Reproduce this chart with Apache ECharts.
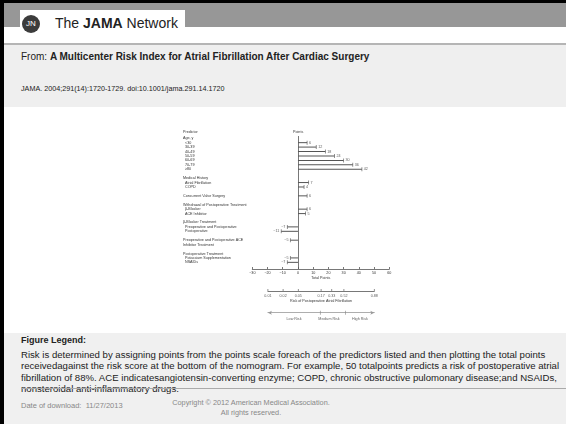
<!DOCTYPE html>
<html>
<head>
<meta charset="utf-8">
<script src="https://cdn.jsdelivr.net/npm/echarts@6/dist/echarts.min.js"></script>
<style>
  html, body { margin: 0; padding: 0; }
  body { width: 566px; height: 424px; overflow: hidden; position: relative; background: #fff;
         font-family: 'Liberation Sans', Arial, sans-serif; color: #222; }
  .abs { position: absolute; }
  #frameLeft { left: 0; top: 0; width: 4px; height: 424px; background: #000; }
  #frameTop { left: 0; top: 0; width: 566px; height: 3px; background: #000; }
  #band { left: 4px; top: 3px; width: 562px; height: 24px; background: #979797; }
  #logoBox { left: 20px; top: 10px; width: 165px; height: 17px; background: #fff; }
  #logo { left: 22px; top: 15px; width: 18px; height: 18px; border-radius: 50%; background: #3c3c3c;
          color: #fff; font-size: 8px; text-align: center; line-height: 18px; }
  #brand { left: 55px; top: 15px; font-size: 14px; white-space: nowrap; }
  #rule { left: 4px; top: 43px; width: 562px; height: 2px; background: #b5b5b5; }
  #fromBox { left: 4px; top: 45px; width: 562px; height: 62px; background: #efefef; }
  #from { left: 21px; top: 51px; font-size: 10px; white-space: nowrap; }
  #cite { left: 21px; top: 84px; font-size: 7.2px; white-space: nowrap; }
  #legendBox { left: 4px; top: 333px; width: 562px; height: 91px; background: #f0f0f0; }
  #legendTitle { left: 21px; top: 335px; font-size: 9px; font-weight: bold; }
  #legendText { left: 21px; top: 349px; font-size: 9.6px; line-height: 11.3px; white-space: nowrap; }
  #legendRule { left: 21px; top: 388px; width: 545px; height: 1px; background: #aaa; }
  #dl { left: 21px; top: 401px; font-size: 7.5px; color: #888; white-space: nowrap; }
  #copy { left: 151px; top: 398px; width: 200px; font-size: 7.3px; color: #888; text-align: center;
          line-height: 10px; white-space: nowrap; }
  #chart { left: 0; top: 0; width: 566px; height: 424px; }
</style>
</head>
<body>
<div class="abs" id="band"></div>
<div class="abs" id="frameLeft"></div>
<div class="abs" id="frameTop"></div>
<div class="abs" id="logoBox"></div>
<div class="abs" id="logo">JN</div>
<div class="abs" id="brand">The <b>JAMA</b> Network</div>
<div class="abs" id="rule"></div>
<div class="abs" id="fromBox"></div>
<div class="abs" id="from">From: <b>A Multicenter Risk Index for Atrial Fibrillation After Cardiac Surgery</b></div>
<div class="abs" id="cite">JAMA. 2004;291(14):1720-1729. doi:10.1001/jama.291.14.1720</div>
<div class="abs" id="legendBox"></div>
<div class="abs" id="legendTitle">Figure Legend:</div>
<div class="abs" id="legendText">Risk is determined by assigning points from the points scale foreach of the predictors listed and then plotting the total points<br>receivedagainst the risk score at the bottom of the nomogram. For example, 50 totalpoints predicts a risk of postoperative atrial<br>fibrillation of 88%. ACE indicatesangiotensin-converting enzyme; COPD, chronic obstructive pulomonary disease;and NSAIDs,<br>nonsteroidal anti-inflammatory drugs.</div>
<div class="abs" id="legendRule"></div>
<div class="abs" id="dl">Date of download:&nbsp; 11/27/2013</div>
<div class="abs" id="copy">Copyright © 2012 American Medical Association.<br>All rights reserved.</div>
<div class="abs" id="chart"></div>

<script>
// predictor rows, top to bottom (blank strings are spacer rows)
const rowLabels = [
    'Age, y', '<30', '30-39', '40-49', '50-59', '60-69', '70-79', '≥80', '',
    'Medical History', 'Atrial Fibrillation', 'COPD', '',
    'Concurrent Valve Surgery', '',
    'Withdrawal of Postoperative Treatment', 'β-Blocker', 'ACE Inhibitor', '',
    'β-Blocker Treatment', 'Preoperative and Postoperative', 'Postoperative', '',
    'Preoperative and Postoperative ACE', 'Inhibitor Treatment', '',
    'Postoperative Treatment', 'Potassium Supplementation', 'NSAIDs', ''
];
const rowIndent = [0,1,1,1,1,1,1,1,0, 0,1,1,0, 0,0, 0,1,1,0, 0,1,1,0, 0,0,0, 0,1,1,0];
const points = [
    null, 6, 12, 18, 24, 30, 36, 42, null,
    null, 7, 4, null,
    6, null,
    null, 6, 5, null,
    null, -7, -11, null,
    -5, null, null,
    null, -5, -7, null
];

// risk scale under the total points axis
const riskPoints = [-20, -10, 0, 15, 22, 30, 50];
const riskLabels = ['0.01', '0.02', '0.05', '0.17', '0.33', '0.52', '0.88'];

// risk groups
const groupCuts = [14.5, 31];
const groupNames = ['Low Risk', 'Medium Risk', 'High Risk'];
const groupCenters = [-2.8, 20.2, 40.6];

const FONT = 'Liberation Sans';
const FS = 3.7;
const INK = '#333';
const fmt = v => (v < 0 ? '\u2212' + (-v) : String(v));

const chart = echarts.init(document.getElementById('chart'), null, { renderer: 'canvas' });

const tickData = [];
points.forEach((v, i) => {
    if (v == null) return;
    tickData.push({ value: [v, i], label: { position: v < 0 ? 'left' : 'right' } });
});

const option = {
    backgroundColor: 'transparent',
    animation: false,
    textStyle: { fontFamily: FONT },
    grid: [
        { left: 252.3, right: 176.7, top: 136, height: 133, containLabel: false },
        { left: 267.9, right: 191.7, top: 290, height: 1, containLabel: false },
        { left: 267.9, right: 191.7, top: 311.7, height: 1, containLabel: false }
    ],
    xAxis: [
        {
            gridIndex: 0, type: 'value', min: -30, max: 60, interval: 10,
            name: 'Total Points', nameLocation: 'middle', nameGap: 7,
            nameTextStyle: { fontSize: FS, color: INK, fontFamily: FONT },
            axisLine: { show: true, onZero: false, lineStyle: { color: '#555', width: 0.8 } },
            axisTick: { show: true, inside: true, length: 2, lineStyle: { color: '#555', width: 0.8 } },
            axisLabel: { fontSize: FS, color: INK, margin: 1.5, formatter: fmt },
            splitLine: { show: false }
        },
        {
            gridIndex: 1, type: 'value', min: -20, max: 50,
            name: 'Risk of Postoperative Atrial Fibrillation', nameLocation: 'middle', nameGap: 7.8,
            nameTextStyle: { fontSize: FS, color: INK, fontFamily: FONT },
            axisLine: { show: true, onZero: false, lineStyle: { color: '#555', width: 0.8 } },
            axisTick: { show: false }, axisLabel: { show: false }, splitLine: { show: false }
        },
        {
            gridIndex: 2, type: 'value', min: -20, max: 50,
            axisLine: { show: true, onZero: false, symbol: ['arrow', 'arrow'], symbolSize: [3, 4],
                        lineStyle: { color: '#999', width: 0.8 } },
            axisTick: { show: false }, axisLabel: { show: false }, splitLine: { show: false }
        }
    ],
    yAxis: [
        {
            gridIndex: 0, type: 'category', inverse: true, data: rowLabels,
            axisLine: { show: false }, axisTick: { show: false }, splitLine: { show: false },
            axisLabel: {
                interval: 0, align: 'left', margin: 69.3, fontSize: FS, color: INK,
                formatter: (val, idx) => rowIndent[idx] ? '{s|' + val + '}' : '{h|' + val + '}',
                rich: {
                    h: { fontSize: FS, color: INK, fontFamily: FONT },
                    s: { fontSize: FS, color: INK, fontFamily: FONT, padding: [0, 0, 0, 2] }
                }
            }
        },
        { gridIndex: 1, type: 'value', min: 0, max: 1, show: false },
        { gridIndex: 2, type: 'value', min: 0, max: 1, show: false }
    ],
    graphic: [
        { type: 'text', left: 183, top: 130, style: { text: 'Predictor', fontSize: FS, fill: INK, fontFamily: FONT } },
        { type: 'text', left: 293, top: 130, style: { text: 'Points', fontSize: FS, fill: INK, fontFamily: FONT } }
    ],
    series: [
        {
            type: 'bar', xAxisIndex: 0, yAxisIndex: 0, data: points,
            barWidth: 0.8, itemStyle: { color: '#555' }, silent: true,
            markLine: {
                silent: true, symbol: 'none', label: { show: false },
                lineStyle: { color: '#555', width: 0.8, type: 'solid' },
                data: [{ xAxis: 0 }]
            }
        },
        {
            type: 'scatter', xAxisIndex: 0, yAxisIndex: 0, data: tickData,
            symbol: 'rect', symbolSize: [0.8, 4], itemStyle: { color: '#555' }, silent: true,
            label: {
                show: true, distance: 1.5, fontSize: FS, color: INK, fontFamily: FONT,
                formatter: p => fmt(p.value[0])
            }
        },
        {
            type: 'scatter', xAxisIndex: 1, yAxisIndex: 1,
            data: riskPoints.map((p, i) => ({ value: [p, 0], name: riskLabels[i] })),
            symbol: 'rect', symbolSize: [0.8, 2], symbolOffset: [0, -1],
            itemStyle: { color: '#555' }, silent: true,
            label: { show: true, position: 'bottom', distance: 2.5, fontSize: FS, color: INK,
                     fontFamily: FONT, formatter: p => p.name }
        },
        {
            type: 'scatter', xAxisIndex: 2, yAxisIndex: 2,
            data: groupCuts.map(c => [c, 0]),
            symbol: 'rect', symbolSize: [0.8, 4], itemStyle: { color: '#888' }, silent: true
        },
        {
            type: 'scatter', xAxisIndex: 2, yAxisIndex: 2,
            data: groupCenters.map((c, i) => ({ value: [c, 0], name: groupNames[i] })),
            symbolSize: 0, silent: true,
            label: { show: true, position: 'bottom', distance: 4.4, fontSize: FS, color: INK,
                     fontFamily: FONT, formatter: p => p.name }
        }
    ]
};

chart.setOption(option);
</script>
</body>
</html>
